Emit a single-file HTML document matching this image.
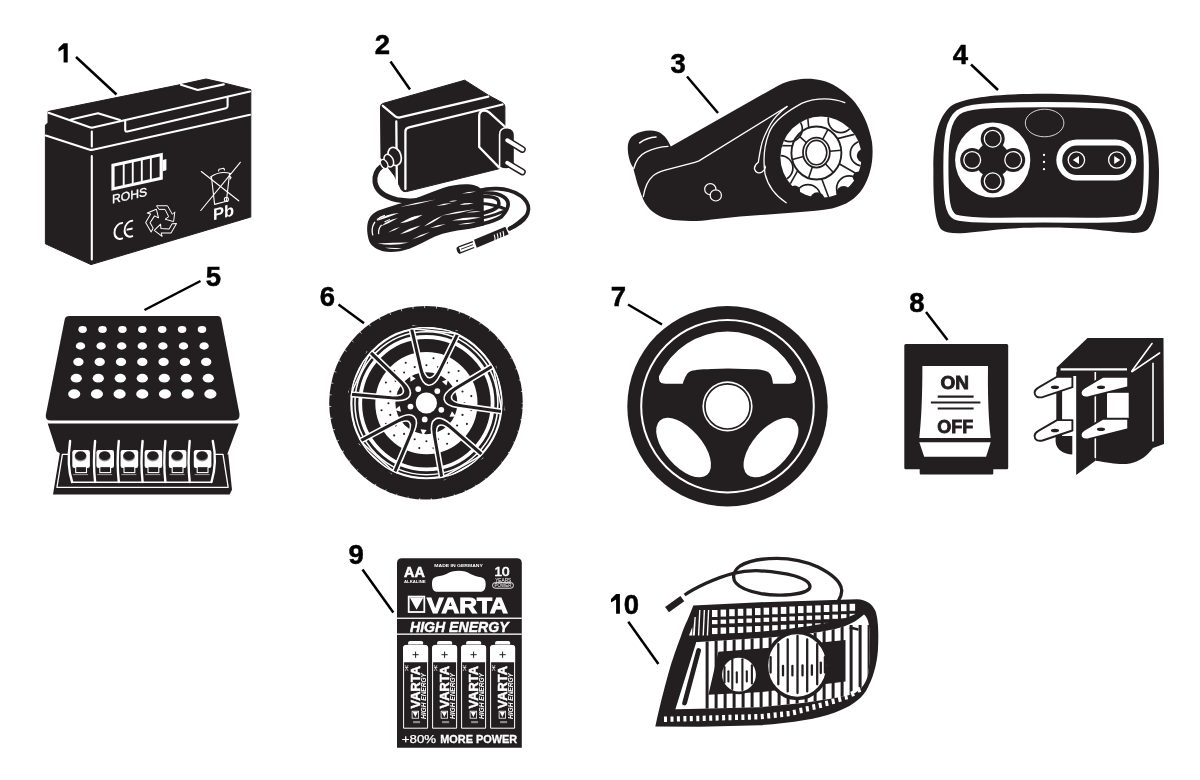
<!DOCTYPE html>
<html><head><meta charset="utf-8"><title>Parts</title>
<style>html,body{margin:0;padding:0;background:#fff;}svg{display:block;will-change:transform}</style></head>
<body><svg width="1200" height="780" viewBox="0 0 1200 780" font-family="'Liberation Sans', sans-serif">
<rect width="1200" height="780" fill="#fff"/>
<text x="382.5" y="53.6" text-anchor="middle" font-weight="bold" font-size="27.5" fill="#000" stroke="#000" stroke-width="0.5">2</text>
<text x="678.1" y="72.5" text-anchor="middle" font-weight="bold" font-size="27.5" fill="#000" stroke="#000" stroke-width="0.5">3</text>
<text x="960.5" y="63.5" text-anchor="middle" font-weight="bold" font-size="27.5" fill="#000" stroke="#000" stroke-width="0.5">4</text>
<text x="213.5" y="286" text-anchor="middle" font-weight="bold" font-size="27.5" fill="#000" stroke="#000" stroke-width="0.5">5</text>
<text x="327.3" y="305.5" text-anchor="middle" font-weight="bold" font-size="27.5" fill="#000" stroke="#000" stroke-width="0.5">6</text>
<text x="618.4" y="305.6" text-anchor="middle" font-weight="bold" font-size="27.5" fill="#000" stroke="#000" stroke-width="0.5">7</text>
<text x="917" y="312.2" text-anchor="middle" font-weight="bold" font-size="27.5" fill="#000" stroke="#000" stroke-width="0.5">8</text>
<text x="356.1" y="563.8" text-anchor="middle" font-weight="bold" font-size="27.5" fill="#000" stroke="#000" stroke-width="0.5">9</text>
<text x="631.4" y="613.7" text-anchor="middle" font-weight="bold" font-size="27.5" fill="#000" stroke="#000" stroke-width="0.5">0</text>
<path d="M63.6,43.3 L67.7,43.3 L67.7,62.6 L63.6,62.6 L63.6,48.7 L58.5,51.7 L58.5,48.3 Z" fill="#000"/>
<path d="M616.1,594.1 L619.9,594.1 L619.9,613.7 L616.1,613.7 L616.1,599.5 L611,602.4 L611,599 Z" fill="#000"/>
<line x1="76" y1="57" x2="116.5" y2="94.5" stroke="#000" stroke-width="2.5"/>
<line x1="390.5" y1="61.5" x2="410" y2="89.5" stroke="#000" stroke-width="2.5"/>
<line x1="687" y1="76.5" x2="718" y2="113" stroke="#000" stroke-width="2.5"/>
<line x1="971" y1="64.5" x2="998" y2="90" stroke="#000" stroke-width="2.5"/>
<line x1="200.5" y1="281" x2="144.5" y2="310" stroke="#000" stroke-width="2.5"/>
<line x1="338.5" y1="304.5" x2="364" y2="323.3" stroke="#000" stroke-width="2.5"/>
<line x1="628" y1="304.5" x2="662" y2="324.5" stroke="#000" stroke-width="2.5"/>
<line x1="926" y1="312" x2="947.5" y2="340" stroke="#000" stroke-width="2.5"/>
<line x1="362.5" y1="569.5" x2="393.3" y2="612.6" stroke="#000" stroke-width="2.5"/>
<line x1="628.3" y1="621.8" x2="658.4" y2="664" stroke="#000" stroke-width="2.5"/>
<path d="M48,111.5 L180.5,84.6 L206,79 L224,83 L250.8,89.7 L250.8,217 L91,264.6 L45.4,243.8 L45.4,125 L48,123 Z" fill="#231f20" stroke="#231f20" stroke-width="1" stroke-linejoin="round"/>
<path d="M48.5,112.8 L89,127 Q91.5,128 94,127.3 L250,91.6" fill="none" stroke="#fff" stroke-width="2.1" stroke-linejoin="round" stroke-linecap="round"/>
<path d="M71,119.5 L98,113.2 L120,120" fill="none" stroke="#fff" stroke-width="2.1" stroke-linejoin="round" stroke-linecap="round"/>
<path d="M125.2,120.8 L125.2,130 Q125.2,132 127.5,131.4 L226,108.2 Q227.6,107.8 227.6,106 L227.6,96.8" fill="none" stroke="#fff" stroke-width="2.1" stroke-linejoin="round" stroke-linecap="round"/>
<path d="M45.8,135.6 L89,149.4 Q91.5,150.3 94,149.6 L250,114.8" fill="none" stroke="#fff" stroke-width="2.1" stroke-linejoin="round" stroke-linecap="round"/>
<path d="M91.8,131.5 L91.8,146.5 M91.8,156 L91.8,259.5" fill="none" stroke="#fff" stroke-width="2.1" stroke-linejoin="round" stroke-linecap="round"/>
<path d="M181,84.8 L197.7,90 L223.8,84.4" fill="none" stroke="#fff" stroke-width="2.1" stroke-linejoin="round" stroke-linecap="round"/>
<g transform="translate(111.4,164) skewY(-12.4)">
<rect x="1.6" y="1.6" width="48.2" height="23.6" fill="none" stroke="#fff" stroke-width="3.2"/>
<rect x="51.2" y="7.2" width="3.8" height="11.2" fill="#fff"/>
<rect x="11.35" y="2" width="1.9" height="23" fill="#fff"/>
<rect x="20.40" y="2" width="1.9" height="23" fill="#fff"/>
<rect x="29.45" y="2" width="1.9" height="23" fill="#fff"/>
<rect x="38.50" y="2" width="1.9" height="23" fill="#fff"/>
<text x="0.6" y="39.6" font-size="12.2" fill="#fff" stroke="#fff" stroke-width="0.35">ROHS</text>
<path d="M11.5,61.6 A6.6,7.8 0 1 0 11.5,76.6 M21.6,61.6 A6.6,7.8 0 1 0 21.6,76.6 M15.2,69.1 L21.2,69.1" fill="none" stroke="#fff" stroke-width="1.9"/>
<text x="101.5" y="78.6" font-size="16.5" fill="#fff" font-weight="bold">Pb</text>
</g>
<g transform="translate(161.4,220.4) scale(1.22) rotate(0)"><path d="M-4,-12 L5,-12 L9,-5 L11,-7 L10,1 L3,-1 L6,-3 L3,-9 L-2,-9 Z" fill="none" stroke="#fff" stroke-width="0.8" stroke-linejoin="round"/></g><g transform="translate(161.4,220.4) scale(1.22) rotate(120)"><path d="M-4,-12 L5,-12 L9,-5 L11,-7 L10,1 L3,-1 L6,-3 L3,-9 L-2,-9 Z" fill="none" stroke="#fff" stroke-width="0.8" stroke-linejoin="round"/></g><g transform="translate(161.4,220.4) scale(1.22) rotate(240)"><path d="M-4,-12 L5,-12 L9,-5 L11,-7 L10,1 L3,-1 L6,-3 L3,-9 L-2,-9 Z" fill="none" stroke="#fff" stroke-width="0.8" stroke-linejoin="round"/></g>
<path d="M211.5,177.2 L214.6,204.4 L226.4,201.3 L229.5,174.1 M210.5,177 Q220,170.5 230.5,173.5 M218.5,171 L219,169.3 L223.8,168.3 L224.5,170" fill="none" stroke="#fff" stroke-width="1.1" stroke-linecap="round" stroke-linejoin="round"/>
<circle cx="226.4" cy="199.4" r="2" fill="none" stroke="#fff" stroke-width="1.1" stroke-linecap="round" stroke-linejoin="round"/>
<path d="M229.5,176 L231,177.5 L230.2,179" fill="none" stroke="#fff" stroke-width="1.1" stroke-linecap="round" stroke-linejoin="round"/>
<path d="M201.3,171.5 L238.7,200.8 M240.3,162.3 L200.8,210.5" fill="none" stroke="#fff" stroke-width="1.1" stroke-linecap="round" stroke-linejoin="round"/>
<path d="M380.5,107 Q380.5,104 383.5,103.3 L464.7,80.2 L488.7,95.4 L499.2,101 Q504.9,103 504.9,106.5 L504.9,127.8 L506.3,128 L499.2,168.7 L406.6,191.6 Q403.5,192.2 401.5,190 L394.6,176 L381,158 Z" fill="#231f20" stroke="#231f20" stroke-width="1" stroke-linejoin="round"/>
<path d="M382.8,105.8 L395.3,116.3 Q397.4,118 400,117.3 L488.3,96.6" fill="none" stroke="#fff" stroke-width="2.3" stroke-linejoin="round" stroke-linecap="round"/>
<path d="M396.3,121.5 L396.9,188" fill="none" stroke="#fff" stroke-width="2.3" stroke-linejoin="round" stroke-linecap="round"/>
<path d="M405.4,189 L405.4,131.5 Q405.4,128.2 409,127.4 L502.5,104.5" fill="none" stroke="#fff" stroke-width="2.3" stroke-linejoin="round" stroke-linecap="round"/>
<path d="M499,167.4 L479.2,147 L479.2,116 Q479.2,111 484.2,110.7 Q487.2,110.6 489.5,112.6 L506.3,128" fill="none" stroke="#fff" stroke-width="2.3" stroke-linejoin="round" stroke-linecap="round"/>
<path d="M499.6,167.5 L499.6,134.5 Q499.6,127.8 507.1,127.8 Q514.6,127.8 514.6,135.5 L514.6,166.8 Q507,171 499.6,167.5 Z" fill="#231f20" stroke="#fff" stroke-width="1.6"/>
<line x1="507.3" y1="140.3" x2="522.3" y2="149.4" stroke="#231f20" stroke-width="7" stroke-linecap="round"/>
<line x1="507.3" y1="140.3" x2="522.3" y2="149.4" stroke="#fff" stroke-width="4" stroke-linecap="round"/>
<line x1="507.3" y1="162.9" x2="522.3" y2="171.9" stroke="#231f20" stroke-width="7" stroke-linecap="round"/>
<line x1="507.3" y1="162.9" x2="522.3" y2="171.9" stroke="#fff" stroke-width="4" stroke-linecap="round"/>
<path d="M382,166 Q374,172 375,182 Q377,195 397,199.8 Q410,202 420,200" fill="none" stroke="#231f20" stroke-width="5" stroke-linecap="round"/>
<path d="M367.5,224 C369,216 374,212 380,210 C388,207 395,205 402,203 C415,199 428,193 443,188 C452,185 460,184 468,184.3 C476,184.8 481,187.5 483.5,192 L484,225.5 C478,227 472,228.5 465,229.6 C455,231 445,232.6 435,236.5 C427,240.5 418,245 410,248.5 C400,252 390,252.8 383,251.2 C375,249.2 370,245 368.5,239 C367,233 366.8,228 367.5,224 Z" fill="#231f20"/>
<path d="M478,190.8 C485,189 492,188.4 497,188.6 C505,188.9 515,191.5 521.4,196.2 C526,200 528.8,205 528.4,209.5 C528,215 525,219 520.5,222.5 C516.5,225.5 512.5,227.5 509.5,228.8" fill="none" stroke="#231f20" stroke-width="3.7" stroke-linecap="round"/>
<path d="M476,193 C485,192.5 495,193 500,195 C505,197 508.2,200 508.2,204 C508.2,209 505,213 501.6,216.6 C497,219.5 490,222 482.6,223.8 C478,224.6 472,225.6 468,226.6" fill="none" stroke="#231f20" stroke-width="3.7" stroke-linecap="round"/>
<path d="M478,196.8 C485,196.2 493,196 497,199 C499.6,201.5 499.2,205 497.4,207 C494.5,209.6 489,211.5 482.6,213.2 L476,214.2" fill="none" stroke="#231f20" stroke-width="3.7" stroke-linecap="round"/>
<path d="M481,203.6 C490,204 498,206 506.5,209.5" fill="none" stroke="#231f20" stroke-width="3" stroke-linecap="round"/>
<path d="M472,219.5 C482,218.5 493,216 503,211.5" fill="none" stroke="#231f20" stroke-width="3" stroke-linecap="round"/>
<path d="M400.0,223.3 Q412.4,221.7 422.8,214.7 Q410.4,216.3 400.0,223.3 Z" fill="#fff"/>
<path d="M400.0,234.2 Q411.1,231.9 420.6,225.5 Q409.5,227.8 400.0,234.2 Z" fill="#fff"/>
<path d="M423.8,226.6 Q433.9,222.7 442.3,215.8 Q432.2,219.7 423.8,226.6 Z" fill="#fff"/>
<path d="M452.0,220.5 Q466.7,220.8 481.0,217.5 Q466.2,216.2 452.0,220.5 Z" fill="#fff"/>
<path d="M441.0,215.8 Q458.2,214.1 474.8,209.3 Q457.6,211.0 441.0,215.8 Z" fill="#fff"/>
<path d="M448.8,201.7 Q453.2,202.3 457.4,200.6 Q453.0,200.0 448.8,201.7 Z" fill="#fff"/>
<path d="M459.6,204.4 Q466.8,205.2 473.7,203.3 Q466.5,202.5 459.6,204.4 Z" fill="#fff"/>
<path d="M400.0,207.0 Q418.2,204.5 435.8,199.5 Q417.6,202.0 400.0,207.0 Z" fill="#fff"/>
<path d="M376.6,221.0 Q388.0,217.7 399.0,213.1 Q386.6,213.6 376.6,221.0 Z" fill="#fff"/>
<path d="M380.5,226.5 Q389.6,223.0 398.0,218.0 Q388.0,219.7 380.5,226.5 Z" fill="#fff"/>
<path d="M388.0,232.5 Q394.6,231.1 400.0,227.0 Q393.4,228.4 388.0,232.5 Z" fill="#fff"/>
<path d="M377.6,243.4 Q393.3,246.3 408.8,242.4 Q393.2,242.5 377.6,243.4 Z" fill="#fff"/>
<path d="M412.0,239.5 Q421.6,237.2 430.0,232.0 Q420.4,234.3 412.0,239.5 Z" fill="#fff"/>
<path d="M385.0,247.8 Q393.4,249.8 402.0,248.5 Q393.5,247.5 385.0,247.8 Z" fill="#fff"/>
<path d="M458.0,224.5 Q467.1,224.8 476.0,222.5 Q466.9,222.2 458.0,224.5 Z" fill="#fff"/>
<path d="M462.0,193.5 Q469.2,193.6 476.0,191.5 Q468.8,191.4 462.0,193.5 Z" fill="#fff"/>
<path d="M436.0,206.0 Q444.2,205.8 452.0,203.0 Q443.8,203.2 436.0,206.0 Z" fill="#fff"/>
<path d="M466.0,212.5 Q473.6,212.9 481.0,211.0 Q473.4,210.6 466.0,212.5 Z" fill="#fff"/>
<path d="M430.0,228.0 Q438.3,227.3 446.0,224.0 Q437.7,224.7 430.0,228.0 Z" fill="#fff"/>
<path d="M407.0,219.5 Q412.9,218.7 418.0,215.5 Q412.1,216.3 407.0,219.5 Z" fill="#fff"/>
<path d="M385,215.5 C376,218 371.5,225 372.2,232 C372.8,238 376,241.5 381,242.8" fill="none" stroke="#fff" stroke-width="1.3" stroke-dasharray="9 3 14 20"/>
<path d="M390,219.5 C382,222 378,228 378.6,233.5 C379.3,238 383,240 388,240.2" fill="none" stroke="#fff" stroke-width="1.2" stroke-dasharray="6 4 10 20"/>
<ellipse cx="394.6" cy="156.4" rx="6.4" ry="9.3" transform="rotate(-18 394.6 156.4)" fill="#231f20" stroke="#fff" stroke-width="1.7"/>
<ellipse cx="388.8" cy="160.6" rx="4.4" ry="6.6" transform="rotate(-25 388.8 160.6)" fill="#231f20" stroke="#fff" stroke-width="1.5"/>
<ellipse cx="384.2" cy="164" rx="3.2" ry="4.9" transform="rotate(-30 384.2 164)" fill="#231f20" stroke="#fff" stroke-width="1.3"/>
<path d="M509,229 Q518,224 527,215" fill="none" stroke="#231f20" stroke-width="3.8"/>
<path d="M474,239.7 L505.3,226.7 L508.7,234.3 L476.7,247.7 Z" fill="#231f20"/>
<path d="M494.2,234.6 q1.2,3 0.8,7.3" fill="none" stroke="#fff" stroke-width="1.1"/>
<path d="M497.1,233.4 q1.2,3 0.8,7.3" fill="none" stroke="#fff" stroke-width="1.1"/>
<path d="M500.0,232.2 q1.2,3 0.8,7.3" fill="none" stroke="#fff" stroke-width="1.1"/>
<path d="M502.9,231.0 q1.2,3 0.8,7.3" fill="none" stroke="#fff" stroke-width="1.1"/>
<path d="M472.9,241.6 L458.6,246.9 Q456.5,249.8 459.8,253.2 L474.2,247.5" fill="#fff" stroke="#231f20" stroke-width="1.3" stroke-linejoin="round"/>
<ellipse cx="458.5" cy="250.2" rx="1.6" ry="3.4" transform="rotate(-20 458.5 250.2)" fill="#231f20"/>
<line x1="461" y1="249.2" x2="473" y2="244.7" stroke="#231f20" stroke-width="0.9"/>
<path d="M627.8,149.6 C627.5,142 630,137.5 634,135 C640,131 650,129.5 657,131.5 C663,133.5 667,138 670.8,146.4 L778.5,85.4 C784,82.5 789,81 795,80 C803,78.5 812,78 822,80.5 C832,83 842,89 852,99 C862,110 869,125 872,142 C874,158 871,175 863,188 C856,199 846,205 832,208.5 C822,210.5 810,211 797.7,212.3 L740,216.5 L711.7,219.4 C704,220.5 697,221 690.5,220.9 C683,220.8 677,220.6 673.6,220.1 C667,219 663,217.5 659.5,215.9 C655,213.5 652,211.5 649.6,208.9 C646,205 644,201.5 641.9,196.2 C640,191 639,188 638.3,186.3 C637,182 636,179 635.5,176.4 C634,171 633.5,169 633.4,168 C631.5,165 630.5,163 629.9,160.9 C628.5,157 628,153 627.8,149.6 Z" fill="#231f20"/>
<path d="M639.7,142.8 Q647,137.5 656,137" fill="none" stroke="#fff" stroke-width="1.6" stroke-linecap="round" stroke-linejoin="round"/>
<path d="M633.8,168.5 C636,160 640,155 645.4,152.4 C652,149 660,146.5 668,146.3" fill="none" stroke="#fff" stroke-width="1.3" stroke-linecap="round" stroke-linejoin="round"/>
<path d="M643.3,196.5 C645,187 648,180 652.4,176.4 C656,173 660,171.5 665.1,170.1 L694.8,162.3 Q697,161.7 699,160.9 L787,106.5" fill="none" stroke="#fff" stroke-width="1.3" stroke-linecap="round" stroke-linejoin="round"/>
<path d="M787,106.5 C780,112 774,118 770.8,123.8 C765,134 762,141 761,147 C759.5,154 759,158 758.3,162.3 C756,164 754,166 754.5,169 C755.5,172.5 759,174 762,172 C765,170 766,168 765,166" fill="none" stroke="#fff" stroke-width="1.3" stroke-linecap="round" stroke-linejoin="round"/>
<circle cx="710.3" cy="189.2" r="5.6" fill="#231f20" stroke="#fff" stroke-width="1.2"/>
<circle cx="715.8" cy="195.4" r="5.6" fill="#231f20" stroke="#fff" stroke-width="1.2"/>
<path d="M844.8,102.7 C828,96 808,99 797.7,105.6 C783,114 772,124 768.8,133.5 C764,146 763,160 765,173.8 C768,186 776,196 786.2,202.7" fill="none" stroke="#fff" stroke-width="1.3" stroke-linecap="round" stroke-linejoin="round"/>
<defs><clipPath id="gearc"><circle cx="821" cy="157.2" r="40.6"/></clipPath></defs>
<circle cx="821" cy="157.2" r="40.6" fill="#fff"/>
<g clip-path="url(#gearc)">
<line x1="822.7" y1="139.4" x2="828.1" y2="129.2" stroke="#231f20" stroke-width="1.6"/>
<line x1="837.6" y1="138.6" x2="858.3" y2="133.4" stroke="#231f20" stroke-width="1.6"/>
<circle cx="840.7" cy="120.1" r="12.5" fill="none" stroke="#231f20" stroke-width="1.7"/>
<line x1="829.7" y1="151.3" x2="841.3" y2="150.3" stroke="#231f20" stroke-width="1.6"/>
<line x1="839.1" y1="163.8" x2="860.9" y2="176.2" stroke="#231f20" stroke-width="1.6"/>
<circle cx="862.8" cy="153.5" r="12.5" fill="none" stroke="#231f20" stroke-width="1.7"/>
<line x1="825.4" y1="163.7" x2="833.1" y2="172.3" stroke="#231f20" stroke-width="1.6"/>
<line x1="821.6" y1="178.5" x2="830.1" y2="201.2" stroke="#231f20" stroke-width="1.6"/>
<circle cx="849.1" cy="188.4" r="12.5" fill="none" stroke="#231f20" stroke-width="1.7"/>
<line x1="812.3" y1="166.9" x2="808.7" y2="177.8" stroke="#231f20" stroke-width="1.6"/>
<line x1="797.8" y1="170.3" x2="788.3" y2="187.3" stroke="#231f20" stroke-width="1.6"/>
<circle cx="808.0" cy="197.1" r="12.5" fill="none" stroke="#231f20" stroke-width="1.7"/>
<line x1="803.5" y1="156.5" x2="792.3" y2="159.5" stroke="#231f20" stroke-width="1.6"/>
<line x1="792.3" y1="145.7" x2="778.5" y2="145.6" stroke="#231f20" stroke-width="1.6"/>
<circle cx="780.4" cy="168.1" r="12.5" fill="none" stroke="#231f20" stroke-width="1.7"/>
<line x1="806.4" y1="142.6" x2="797.8" y2="134.9" stroke="#231f20" stroke-width="1.6"/>
<line x1="808.7" y1="127.4" x2="807.4" y2="114.4" stroke="#231f20" stroke-width="1.6"/>
<circle cx="789.8" cy="129.1" r="12.5" fill="none" stroke="#231f20" stroke-width="1.7"/>
<ellipse cx="816.4" cy="153.0" rx="25" ry="26.5" fill="none" stroke="#231f20" stroke-width="1.9"/>
<ellipse cx="816.4" cy="152.6" rx="13.4" ry="15" fill="#fff" stroke="#231f20" stroke-width="1.8"/>
<ellipse cx="816.4" cy="152.6" rx="10.4" ry="12.2" fill="none" stroke="#231f20" stroke-width="1.6"/>
</g>
<circle cx="863.6" cy="155.7" r="6.8" fill="#231f20"/>
<circle cx="858.6" cy="177.2" r="5.8" fill="#231f20"/>
<circle cx="843.6" cy="193.3" r="7.3" fill="#231f20"/>
<circle cx="817.3" cy="199.6" r="7.3" fill="#231f20"/>
<circle cx="794.8" cy="190.8" r="5.3" fill="#231f20"/>
<path d="M933.4,172 C933,140 937,118 951,106 C964,97 1000,93.8 1044,93.7 C1088,93.8 1124,97 1137,106 C1151,118 1159.2,140 1159,172 C1159,205 1155,222 1147,230 C1140,235.5 1120,232 1090,229 C1070,227.8 1058,227.6 1044,227.6 C1030,227.6 1015,228 998,229.5 C968,233 950,235.5 942,230 C936,225 933,205 933.4,172 Z" fill="#231f20"/>
<path d="M945.9,165 C945.9,135 948.5,120 958,112.5 C966,106.5 985,104.65 1044,104.65 C1103,104.65 1122,106.5 1130,112.5 C1139.5,120 1146.3,135 1146.3,165 C1146.3,201 1143.5,213 1135.5,217 C1120,221.5 1080,220 1044,220 C1008,220 968,221.5 955,217 C947.5,213 945.9,201 945.9,165 Z" fill="#231f20" stroke="#fff" stroke-width="5.1"/>
<circle cx="992.7" cy="160" r="37.6" fill="#fff"/>
<circle cx="992.7" cy="160" r="17.5" fill="#231f20"/>
<circle cx="992.7" cy="138.7" r="12" fill="#231f20"/>
<circle cx="992.7" cy="181.3" r="12" fill="#231f20"/>
<circle cx="972.2" cy="160" r="12" fill="#231f20"/>
<circle cx="1013.2" cy="160" r="12" fill="#231f20"/>
<circle cx="992.7" cy="138.7" r="8.4" fill="none" stroke="#fff" stroke-width="1.3"/>
<circle cx="992.7" cy="181.3" r="8.4" fill="none" stroke="#fff" stroke-width="1.3"/>
<circle cx="972.2" cy="160" r="8.4" fill="none" stroke="#fff" stroke-width="1.3"/>
<circle cx="1013.2" cy="160" r="8.4" fill="none" stroke="#fff" stroke-width="1.3"/>
<ellipse cx="1044.6" cy="123" rx="19.3" ry="13.8" fill="none" stroke="#fff" stroke-width="0.8"/>
<circle cx="1044" cy="154.9" r="1.15" fill="#fff"/>
<circle cx="1044" cy="162" r="1.15" fill="#fff"/>
<circle cx="1044" cy="169.2" r="1.15" fill="#fff"/>
<rect x="1056.3" y="139.5" width="80" height="41" rx="20.5" fill="#fff"/>
<rect x="1062.2" y="145.6" width="69.2" height="29.4" rx="14.7" fill="#231f20"/>
<circle cx="1076.4" cy="160" r="8.2" fill="none" stroke="#fff" stroke-width="1.3"/>
<path d="M1072.8000000000002,160 L1079.0,156 L1079.0,164 Z" fill="#fff"/>
<circle cx="1116.8" cy="160" r="8.2" fill="none" stroke="#fff" stroke-width="1.3"/>
<path d="M1120.3999999999999,160 L1114.2,156 L1114.2,164 Z" fill="#fff"/>
<path d="M69.5,316.1 L217.6,316.1 Q220.5,316.1 221.2,319 L239.5,414 Q240,420.5 234,420.5 L51,420.5 Q45,420.5 45.8,415 L64.8,319 Q65.5,316.1 69.5,316.1 Z" fill="#231f20"/>
<path d="M47.7,423.5 L238.6,423.5 L227,455 L228.2,453.8 L232,489.7 L229.5,494.5 L53,494.5 L59.8,453.2 L56.7,451.3 Z" fill="#231f20"/>
<ellipse cx="82.6" cy="329.5" rx="4.25" ry="3.40" fill="#fff"/>
<ellipse cx="102.5" cy="329.5" rx="4.25" ry="3.40" fill="#fff"/>
<ellipse cx="122.4" cy="329.5" rx="4.25" ry="3.40" fill="#fff"/>
<ellipse cx="142.3" cy="329.5" rx="4.25" ry="3.40" fill="#fff"/>
<ellipse cx="162.2" cy="329.5" rx="4.25" ry="3.40" fill="#fff"/>
<ellipse cx="182.1" cy="329.5" rx="4.25" ry="3.40" fill="#fff"/>
<ellipse cx="202.0" cy="329.5" rx="4.25" ry="3.40" fill="#fff"/>
<ellipse cx="80.5" cy="346" rx="4.71" ry="3.71" fill="#fff"/>
<ellipse cx="101.1" cy="346" rx="4.71" ry="3.71" fill="#fff"/>
<ellipse cx="121.7" cy="346" rx="4.71" ry="3.71" fill="#fff"/>
<ellipse cx="142.3" cy="346" rx="4.71" ry="3.71" fill="#fff"/>
<ellipse cx="162.9" cy="346" rx="4.71" ry="3.71" fill="#fff"/>
<ellipse cx="183.5" cy="346" rx="4.71" ry="3.71" fill="#fff"/>
<ellipse cx="204.1" cy="346" rx="4.71" ry="3.71" fill="#fff"/>
<ellipse cx="78.4" cy="361.9" rx="5.17" ry="4.03" fill="#fff"/>
<ellipse cx="99.7" cy="361.9" rx="5.17" ry="4.03" fill="#fff"/>
<ellipse cx="121.0" cy="361.9" rx="5.17" ry="4.03" fill="#fff"/>
<ellipse cx="142.3" cy="361.9" rx="5.17" ry="4.03" fill="#fff"/>
<ellipse cx="163.6" cy="361.9" rx="5.17" ry="4.03" fill="#fff"/>
<ellipse cx="184.9" cy="361.9" rx="5.17" ry="4.03" fill="#fff"/>
<ellipse cx="206.2" cy="361.9" rx="5.17" ry="4.03" fill="#fff"/>
<ellipse cx="76.3" cy="378.2" rx="5.64" ry="4.34" fill="#fff"/>
<ellipse cx="98.3" cy="378.2" rx="5.64" ry="4.34" fill="#fff"/>
<ellipse cx="120.3" cy="378.2" rx="5.64" ry="4.34" fill="#fff"/>
<ellipse cx="142.3" cy="378.2" rx="5.64" ry="4.34" fill="#fff"/>
<ellipse cx="164.3" cy="378.2" rx="5.64" ry="4.34" fill="#fff"/>
<ellipse cx="186.3" cy="378.2" rx="5.64" ry="4.34" fill="#fff"/>
<ellipse cx="208.3" cy="378.2" rx="5.64" ry="4.34" fill="#fff"/>
<ellipse cx="74.2" cy="394" rx="6.10" ry="4.65" fill="#fff"/>
<ellipse cx="96.9" cy="394" rx="6.10" ry="4.65" fill="#fff"/>
<ellipse cx="119.6" cy="394" rx="6.10" ry="4.65" fill="#fff"/>
<ellipse cx="142.3" cy="394" rx="6.10" ry="4.65" fill="#fff"/>
<ellipse cx="165.0" cy="394" rx="6.10" ry="4.65" fill="#fff"/>
<ellipse cx="187.7" cy="394" rx="6.10" ry="4.65" fill="#fff"/>
<ellipse cx="210.4" cy="394" rx="6.10" ry="4.65" fill="#fff"/>
<path d="M69,454.4 L62.4,454.4 L56.9,487.3 L228.2,487.3 L223,454.4 L214.5,454.4" fill="none" stroke="#fff" stroke-width="1.3" stroke-linejoin="round"/>
<line x1="71" y1="482.2" x2="212" y2="482.2" stroke="#fff" stroke-width="1.4"/>
<rect x="72.3" y="450" width="17.6" height="18" rx="2.2" fill="#fff"/>
<rect x="75.7" y="466.6" width="10.8" height="6" fill="#231f20" stroke="#fff" stroke-width="1.1"/>
<ellipse cx="80.6" cy="456.8" rx="6" ry="4.6" fill="#888"/>
<ellipse cx="80.6" cy="455.6" rx="5.6" ry="4.4" fill="#231f20"/>
<line x1="73.1" y1="474.6" x2="88.1" y2="474.6" stroke="#999" stroke-width="1"/>
<rect x="96.4" y="450" width="17.6" height="18" rx="2.2" fill="#fff"/>
<rect x="99.8" y="466.6" width="10.8" height="6" fill="#231f20" stroke="#fff" stroke-width="1.1"/>
<ellipse cx="104.7" cy="456.8" rx="6" ry="4.6" fill="#888"/>
<ellipse cx="104.7" cy="455.6" rx="5.6" ry="4.4" fill="#231f20"/>
<line x1="97.2" y1="474.6" x2="112.2" y2="474.6" stroke="#999" stroke-width="1"/>
<rect x="120.6" y="450" width="17.6" height="18" rx="2.2" fill="#fff"/>
<rect x="124.0" y="466.6" width="10.8" height="6" fill="#231f20" stroke="#fff" stroke-width="1.1"/>
<ellipse cx="128.9" cy="456.8" rx="6" ry="4.6" fill="#888"/>
<ellipse cx="128.9" cy="455.6" rx="5.6" ry="4.4" fill="#231f20"/>
<line x1="121.4" y1="474.6" x2="136.4" y2="474.6" stroke="#999" stroke-width="1"/>
<rect x="144.6" y="450" width="17.6" height="18" rx="2.2" fill="#fff"/>
<rect x="148.0" y="466.6" width="10.8" height="6" fill="#231f20" stroke="#fff" stroke-width="1.1"/>
<ellipse cx="152.9" cy="456.8" rx="6" ry="4.6" fill="#888"/>
<ellipse cx="152.9" cy="455.6" rx="5.6" ry="4.4" fill="#231f20"/>
<line x1="145.4" y1="474.6" x2="160.4" y2="474.6" stroke="#999" stroke-width="1"/>
<rect x="168.8" y="450" width="17.6" height="18" rx="2.2" fill="#fff"/>
<rect x="172.2" y="466.6" width="10.8" height="6" fill="#231f20" stroke="#fff" stroke-width="1.1"/>
<ellipse cx="177.1" cy="456.8" rx="6" ry="4.6" fill="#888"/>
<ellipse cx="177.1" cy="455.6" rx="5.6" ry="4.4" fill="#231f20"/>
<line x1="169.6" y1="474.6" x2="184.6" y2="474.6" stroke="#999" stroke-width="1"/>
<rect x="193.8" y="450" width="17.6" height="18" rx="2.2" fill="#fff"/>
<rect x="197.2" y="466.6" width="10.8" height="6" fill="#231f20" stroke="#fff" stroke-width="1.1"/>
<ellipse cx="202.1" cy="456.8" rx="6" ry="4.6" fill="#888"/>
<ellipse cx="202.1" cy="455.6" rx="5.6" ry="4.4" fill="#231f20"/>
<line x1="194.6" y1="474.6" x2="209.6" y2="474.6" stroke="#999" stroke-width="1"/>
<path d="M70.1,441 Q66.6,466 72.1,482" fill="none" stroke="#fff" stroke-width="2.4" stroke-linecap="round"/>
<path d="M95.1,441 Q92.89999999999999,462 95.1,482" fill="none" stroke="#fff" stroke-width="2.4" stroke-linecap="round"/>
<path d="M118.8,441 Q116.6,462 118.8,482" fill="none" stroke="#fff" stroke-width="2.4" stroke-linecap="round"/>
<path d="M142.6,441 Q140.4,462 142.6,482" fill="none" stroke="#fff" stroke-width="2.4" stroke-linecap="round"/>
<path d="M165.4,441 Q163.20000000000002,462 165.4,482" fill="none" stroke="#fff" stroke-width="2.4" stroke-linecap="round"/>
<path d="M189.7,441 Q187.5,462 189.7,482" fill="none" stroke="#fff" stroke-width="2.4" stroke-linecap="round"/>
<path d="M212.8,441 Q217.5,462 211.5,482" fill="none" stroke="#fff" stroke-width="2.4" stroke-linecap="round"/>
<circle cx="426.0" cy="402.8" r="96.8" fill="#231f20"/>
<line x1="523.9" y1="408.3" x2="521.5" y2="408.2" stroke="#fff" stroke-width="0.7"/>
<line x1="522.5" y1="420.1" x2="520.2" y2="419.7" stroke="#fff" stroke-width="0.7"/>
<line x1="519.7" y1="431.7" x2="517.4" y2="431.0" stroke="#fff" stroke-width="0.7"/>
<line x1="515.6" y1="442.9" x2="513.4" y2="441.9" stroke="#fff" stroke-width="0.7"/>
<line x1="510.1" y1="453.5" x2="508.0" y2="452.2" stroke="#fff" stroke-width="0.7"/>
<line x1="503.3" y1="463.3" x2="501.4" y2="461.8" stroke="#fff" stroke-width="0.7"/>
<line x1="495.4" y1="472.2" x2="493.7" y2="470.5" stroke="#fff" stroke-width="0.7"/>
<line x1="486.5" y1="480.1" x2="485.0" y2="478.2" stroke="#fff" stroke-width="0.7"/>
<line x1="476.7" y1="486.9" x2="475.4" y2="484.8" stroke="#fff" stroke-width="0.7"/>
<line x1="466.1" y1="492.4" x2="465.1" y2="490.2" stroke="#fff" stroke-width="0.7"/>
<line x1="454.9" y1="496.5" x2="454.2" y2="494.2" stroke="#fff" stroke-width="0.7"/>
<line x1="443.3" y1="499.3" x2="442.9" y2="497.0" stroke="#fff" stroke-width="0.7"/>
<line x1="431.5" y1="500.7" x2="431.4" y2="498.3" stroke="#fff" stroke-width="0.7"/>
<line x1="419.6" y1="500.6" x2="419.8" y2="498.2" stroke="#fff" stroke-width="0.7"/>
<line x1="407.8" y1="499.0" x2="408.2" y2="496.7" stroke="#fff" stroke-width="0.7"/>
<line x1="396.2" y1="496.0" x2="397.0" y2="493.7" stroke="#fff" stroke-width="0.7"/>
<line x1="385.2" y1="491.7" x2="386.2" y2="489.5" stroke="#fff" stroke-width="0.7"/>
<line x1="374.7" y1="486.0" x2="376.0" y2="483.9" stroke="#fff" stroke-width="0.7"/>
<line x1="365.0" y1="479.0" x2="366.5" y2="477.2" stroke="#fff" stroke-width="0.7"/>
<line x1="356.2" y1="471.0" x2="357.9" y2="469.3" stroke="#fff" stroke-width="0.7"/>
<line x1="348.5" y1="461.9" x2="350.4" y2="460.5" stroke="#fff" stroke-width="0.7"/>
<line x1="341.9" y1="452.0" x2="344.0" y2="450.8" stroke="#fff" stroke-width="0.7"/>
<line x1="336.6" y1="441.3" x2="338.8" y2="440.4" stroke="#fff" stroke-width="0.7"/>
<line x1="332.6" y1="430.1" x2="334.9" y2="429.4" stroke="#fff" stroke-width="0.7"/>
<line x1="330.0" y1="418.5" x2="332.4" y2="418.1" stroke="#fff" stroke-width="0.7"/>
<line x1="328.9" y1="406.6" x2="331.3" y2="406.5" stroke="#fff" stroke-width="0.7"/>
<line x1="329.2" y1="394.7" x2="331.6" y2="394.9" stroke="#fff" stroke-width="0.7"/>
<line x1="330.9" y1="382.9" x2="333.3" y2="383.4" stroke="#fff" stroke-width="0.7"/>
<line x1="334.1" y1="371.4" x2="336.4" y2="372.2" stroke="#fff" stroke-width="0.7"/>
<line x1="338.7" y1="360.4" x2="340.8" y2="361.5" stroke="#fff" stroke-width="0.7"/>
<line x1="344.5" y1="350.0" x2="346.6" y2="351.4" stroke="#fff" stroke-width="0.7"/>
<line x1="351.6" y1="340.5" x2="353.5" y2="342.0" stroke="#fff" stroke-width="0.7"/>
<line x1="359.8" y1="331.8" x2="361.5" y2="333.6" stroke="#fff" stroke-width="0.7"/>
<line x1="369.0" y1="324.2" x2="370.4" y2="326.2" stroke="#fff" stroke-width="0.7"/>
<line x1="379.1" y1="317.8" x2="380.2" y2="319.9" stroke="#fff" stroke-width="0.7"/>
<line x1="389.8" y1="312.7" x2="390.7" y2="314.9" stroke="#fff" stroke-width="0.7"/>
<line x1="401.1" y1="308.9" x2="401.8" y2="311.2" stroke="#fff" stroke-width="0.7"/>
<line x1="412.8" y1="306.5" x2="413.2" y2="308.9" stroke="#fff" stroke-width="0.7"/>
<line x1="424.7" y1="305.6" x2="424.7" y2="308.0" stroke="#fff" stroke-width="0.7"/>
<line x1="436.6" y1="306.1" x2="436.4" y2="308.5" stroke="#fff" stroke-width="0.7"/>
<line x1="448.4" y1="308.1" x2="447.8" y2="310.4" stroke="#fff" stroke-width="0.7"/>
<line x1="459.8" y1="311.5" x2="459.0" y2="313.7" stroke="#fff" stroke-width="0.7"/>
<line x1="470.7" y1="316.2" x2="469.6" y2="318.4" stroke="#fff" stroke-width="0.7"/>
<line x1="481.0" y1="322.3" x2="479.6" y2="324.3" stroke="#fff" stroke-width="0.7"/>
<line x1="490.4" y1="329.5" x2="488.9" y2="331.4" stroke="#fff" stroke-width="0.7"/>
<line x1="498.9" y1="337.9" x2="497.1" y2="339.5" stroke="#fff" stroke-width="0.7"/>
<line x1="506.3" y1="347.2" x2="504.4" y2="348.6" stroke="#fff" stroke-width="0.7"/>
<line x1="512.6" y1="357.4" x2="510.5" y2="358.5" stroke="#fff" stroke-width="0.7"/>
<line x1="517.5" y1="368.2" x2="515.3" y2="369.1" stroke="#fff" stroke-width="0.7"/>
<line x1="521.1" y1="379.6" x2="518.8" y2="380.2" stroke="#fff" stroke-width="0.7"/>
<line x1="523.3" y1="391.3" x2="520.9" y2="391.6" stroke="#fff" stroke-width="0.7"/>
<line x1="524.0" y1="403.2" x2="521.6" y2="403.2" stroke="#fff" stroke-width="0.7"/>
<circle cx="426.4" cy="403.2" r="75.8" fill="#fff"/>
<circle cx="426.4" cy="403.2" r="73.1" fill="none" stroke="#231f20" stroke-width="1.7"/>
<circle cx="426.4" cy="403.2" r="69.4" fill="none" stroke="#231f20" stroke-width="2.6"/>
<circle cx="426.4" cy="403.2" r="57.7" fill="none" stroke="#231f20" stroke-width="13.2"/>
<circle cx="464.4" cy="403.2" r="1.05" fill="#231f20"/>
<circle cx="462.5" cy="414.9" r="1.05" fill="#231f20"/>
<circle cx="457.1" cy="425.5" r="1.05" fill="#231f20"/>
<circle cx="448.7" cy="433.9" r="1.05" fill="#231f20"/>
<circle cx="438.1" cy="439.3" r="1.05" fill="#231f20"/>
<circle cx="426.4" cy="441.2" r="1.05" fill="#231f20"/>
<circle cx="414.7" cy="439.3" r="1.05" fill="#231f20"/>
<circle cx="404.1" cy="433.9" r="1.05" fill="#231f20"/>
<circle cx="395.7" cy="425.5" r="1.05" fill="#231f20"/>
<circle cx="390.3" cy="414.9" r="1.05" fill="#231f20"/>
<circle cx="388.4" cy="403.2" r="1.05" fill="#231f20"/>
<circle cx="390.3" cy="391.5" r="1.05" fill="#231f20"/>
<circle cx="395.7" cy="380.9" r="1.05" fill="#231f20"/>
<circle cx="404.1" cy="372.5" r="1.05" fill="#231f20"/>
<circle cx="414.7" cy="367.1" r="1.05" fill="#231f20"/>
<circle cx="426.4" cy="365.2" r="1.05" fill="#231f20"/>
<circle cx="438.1" cy="367.1" r="1.05" fill="#231f20"/>
<circle cx="448.7" cy="372.5" r="1.05" fill="#231f20"/>
<circle cx="457.1" cy="380.9" r="1.05" fill="#231f20"/>
<circle cx="462.5" cy="391.5" r="1.05" fill="#231f20"/>
<circle cx="471.3" cy="410.3" r="1.05" fill="#231f20"/>
<circle cx="466.9" cy="423.9" r="1.05" fill="#231f20"/>
<circle cx="458.6" cy="435.4" r="1.05" fill="#231f20"/>
<circle cx="447.1" cy="443.7" r="1.05" fill="#231f20"/>
<circle cx="433.5" cy="448.1" r="1.05" fill="#231f20"/>
<circle cx="419.3" cy="448.1" r="1.05" fill="#231f20"/>
<circle cx="405.7" cy="443.7" r="1.05" fill="#231f20"/>
<circle cx="394.2" cy="435.4" r="1.05" fill="#231f20"/>
<circle cx="385.9" cy="423.9" r="1.05" fill="#231f20"/>
<circle cx="381.5" cy="410.3" r="1.05" fill="#231f20"/>
<circle cx="381.5" cy="396.1" r="1.05" fill="#231f20"/>
<circle cx="385.9" cy="382.5" r="1.05" fill="#231f20"/>
<circle cx="394.2" cy="371.0" r="1.05" fill="#231f20"/>
<circle cx="405.7" cy="362.7" r="1.05" fill="#231f20"/>
<circle cx="419.3" cy="358.3" r="1.05" fill="#231f20"/>
<circle cx="433.5" cy="358.3" r="1.05" fill="#231f20"/>
<circle cx="447.1" cy="362.7" r="1.05" fill="#231f20"/>
<circle cx="458.6" cy="371.0" r="1.05" fill="#231f20"/>
<circle cx="466.9" cy="382.5" r="1.05" fill="#231f20"/>
<circle cx="471.3" cy="396.1" r="1.05" fill="#231f20"/>
<circle cx="426.4" cy="403.2" r="31" fill="#231f20"/>
<path d="M409.08,328.17 L419.20,372.02 C423.03,388.58 432.98,389.72 440.43,374.44 L460.15,333.99 Z M413.34,326.16 L422.78,367.09 C425.93,380.73 431.91,381.41 438.05,368.83 L456.46,331.08 Z" fill="#231f20" fill-rule="evenodd" stroke="#fff" stroke-width="1.6"/>
<path d="M492.40,363.54 L453.83,386.72 C439.26,395.47 441.25,405.29 458.09,407.65 L502.65,413.92 Z M495.63,366.97 L459.63,388.60 C447.63,395.81 448.83,401.71 462.69,403.65 L504.28,409.50 Z" fill="#231f20" fill-rule="evenodd" stroke="#fff" stroke-width="1.6"/>
<path d="M484.51,453.72 L450.55,424.19 C437.72,413.04 429.00,417.97 431.96,434.71 L439.77,479.03 Z M482.25,457.84 L450.55,430.29 C439.99,421.10 434.75,424.07 437.18,437.85 L444.47,479.22 Z" fill="#231f20" fill-rule="evenodd" stroke="#fff" stroke-width="1.6"/>
<path d="M396.31,474.08 L413.90,432.66 C420.54,417.01 413.16,410.24 398.15,418.22 L358.41,439.35 Z M391.69,473.20 L408.10,434.54 C413.57,421.65 409.13,417.59 396.77,424.16 L359.69,443.88 Z" fill="#231f20" fill-rule="evenodd" stroke="#fff" stroke-width="1.6"/>
<path d="M349.69,396.49 L394.52,400.41 C411.46,401.89 415.61,392.78 403.38,380.97 L371.01,349.71 Z M349.10,391.82 L390.94,395.48 C404.88,396.70 407.38,391.23 397.31,381.50 L367.10,352.33 Z" fill="#231f20" fill-rule="evenodd" stroke="#fff" stroke-width="1.6"/>
<circle cx="426.4" cy="403.2" r="77.3" fill="none" stroke="#231f20" stroke-width="2.4"/>
<circle cx="426.4" cy="403.2" r="75.5" fill="none" stroke="#fff" stroke-width="1.2"/>
<circle cx="418.2" cy="389.1" r="2.9" fill="#fff"/>
<path d="M410.15,375.05 L410.46,381.66 L415.71,378.62 Z" fill="#fff"/>
<circle cx="437.3" cy="391.1" r="2.9" fill="#fff"/>
<path d="M448.15,379.05 L441.96,381.38 L446.47,385.44 Z" fill="#fff"/>
<circle cx="441.3" cy="409.8" r="2.9" fill="#fff"/>
<path d="M456.09,416.42 L451.96,411.26 L449.49,416.80 Z" fill="#fff"/>
<circle cx="424.7" cy="419.4" r="2.9" fill="#fff"/>
<path d="M423.00,435.52 L426.63,430.00 L420.60,429.36 Z" fill="#fff"/>
<circle cx="410.5" cy="406.6" r="2.9" fill="#fff"/>
<path d="M394.61,409.96 L400.98,411.70 L399.72,405.77 Z" fill="#fff"/>
<circle cx="426.4" cy="403.0" r="10.6" fill="#fff"/>
<circle cx="727.5" cy="406.2" r="100.2" fill="#231f20"/>
<circle cx="727.5" cy="406.2" r="86.3" fill="none" stroke="#fff" stroke-width="2"/>
<path d="M665.5,383.7 C660.5,383.7 658.6,381.5 659,376.2 A74.9,74.9 0 0 1 796,376.2 C796.4,381.5 794.5,383.7 789.5,383.7 L773,383.7 C772,377 771,374 768,372 C766,370.5 760,369.2 752.6,369.3 L728,368.6 L711.5,369 C700,369.3 693,370 690,371.5 C687,373 685,377 682.8,383.7 Z" fill="#fff"/>
<ellipse cx="683.6" cy="447.6" rx="36" ry="18.5" transform="rotate(49 683.6 447.6)" fill="#fff"/>
<ellipse cx="771" cy="447.6" rx="36" ry="18.5" transform="rotate(-49 771 447.6)" fill="#fff"/>
<circle cx="727.5" cy="406.4" r="25.1" fill="#fff"/>
<circle cx="727.5" cy="406.4" r="22.6" fill="none" stroke="#231f20" stroke-width="1.7"/>
<rect x="904.3" y="344" width="103.9" height="125.3" rx="1.5" fill="#231f20"/>
<rect x="919.7" y="466" width="73.6" height="8.6" rx="1" fill="#231f20"/>
<path d="M922.4,366 L988,366 C987.6,395 988.6,420 990.7,438.1 L919.3,438.1 C921.4,420 922.4,395 922.4,366 Z" fill="#fff"/>
<path d="M919.3,442.2 L990.7,442.2 L986.1,456.7 L924.2,456.7 Z" fill="#fff"/>
<text x="954.8" y="388.5" text-anchor="middle" font-weight="bold" font-size="19" fill="#231f20" stroke="#231f20" stroke-width="0.9">ON</text>
<text x="955.3" y="433.4" text-anchor="middle" font-weight="bold" font-size="19" fill="#231f20" stroke="#231f20" stroke-width="0.9" textLength="36" lengthAdjust="spacingAndGlyphs">OFF</text>
<line x1="937.7" y1="396.6" x2="973.6" y2="396.6" stroke="#231f20" stroke-width="2.1"/>
<line x1="930.9" y1="402.5" x2="980.4" y2="402.5" stroke="#231f20" stroke-width="2.1"/>
<line x1="937.7" y1="408.5" x2="973.6" y2="408.5" stroke="#231f20" stroke-width="2.1"/>
<path d="M1087.5,338 L1163.5,338 L1164,444 L1153,448 C1148,455 1140,461.5 1130,463.5 C1120,465 1110,463 1095.4,460.8 L1095.4,376 L1056.7,376 L1056.7,367.5 Z" fill="#231f20"/>
<path d="M1076.2,376 L1095.4,376 L1095.4,460.8 L1076.2,475 Z" fill="#231f20"/>
<rect x="1056.3" y="372" width="5.8" height="70" fill="#231f20"/>
<path d="M1055.6,436 L1072.3,436 L1072.3,454.6 C1064,454 1056,450 1055.6,441.5 Z" fill="#231f20"/>
<rect x="1107" y="392.8" width="21.7" height="25.7" fill="#fff"/>
<line x1="1060.6" y1="369.4" x2="1127" y2="369.4" stroke="#fff" stroke-width="2.2"/>
<line x1="1095.3" y1="372" x2="1095.3" y2="458" stroke="#fff" stroke-width="1.6"/>
<line x1="1153" y1="362.7" x2="1153" y2="441.5" stroke="#fff" stroke-width="1.6"/>
<path d="M1131.7,371.3 L1152,343.5 M1132.2,371.6 L1159.6,353" stroke="#fff" stroke-width="1.6" stroke-linecap="round"/>
<path d="M1038.4,387.6 L1057.0,376.8 L1072.4,376.8 L1072.4,387.2 L1042.5,397.2 Q1034.6,398.4 1034.6,392.6 Q1034.8,389.5 1038.4,387.6 Z" fill="#fff" stroke="#231f20" stroke-width="1.9" stroke-linejoin="round"/>
<ellipse cx="1055" cy="387.2" rx="4.1" ry="1.8" fill="#231f20"/>
<path d="M1084.4,387.6 L1103.0,376.8 L1128.2,376.8 L1128.2,387.2 L1088.5,397.2 Q1080.6,398.4 1080.6,392.6 Q1080.8,389.5 1084.4,387.6 Z" fill="#fff" stroke="#231f20" stroke-width="1.9" stroke-linejoin="round"/>
<ellipse cx="1101" cy="387.2" rx="4.1" ry="1.8" fill="#231f20"/>
<path d="M1038.4,430.9 L1057.0,420.1 L1072.4,420.1 L1072.4,430.5 L1042.5,440.5 Q1034.6,441.7 1034.6,435.9 Q1034.8,432.8 1038.4,430.9 Z" fill="#fff" stroke="#231f20" stroke-width="1.9" stroke-linejoin="round"/>
<ellipse cx="1055" cy="430.5" rx="4.1" ry="1.8" fill="#231f20"/>
<path d="M1084.4,429.6 L1103.0,418.8 L1128.2,418.8 L1128.2,429.2 L1088.5,439.2 Q1080.6,440.4 1080.6,434.6 Q1080.8,431.5 1084.4,429.6 Z" fill="#fff" stroke="#231f20" stroke-width="1.9" stroke-linejoin="round"/>
<ellipse cx="1101" cy="429.2" rx="4.1" ry="1.8" fill="#231f20"/>
<path d="M402,558.2 L516.8,558.2 Q521.8,558.2 521.8,563.2 L521.8,747.7 L397,747.7 L397,563.2 Q397,558.2 402,558.2 Z" fill="#231f20"/>
<text x="434.3" y="567" font-size="4.3" font-weight="bold" fill="#fff" textLength="48.5" lengthAdjust="spacingAndGlyphs">MADE IN GERMANY</text>
<text x="404" y="577.4" font-size="14" font-weight="bold" fill="#fff" stroke="#fff" stroke-width="0.5" textLength="20.8" lengthAdjust="spacingAndGlyphs">AA</text>
<text x="404" y="582.8" font-size="3.9" font-weight="bold" fill="#fff" textLength="21.6" lengthAdjust="spacingAndGlyphs">ALKALINE</text>
<text x="494.6" y="576.4" font-size="12.6" fill="#fff" textLength="15" lengthAdjust="spacingAndGlyphs" stroke="#fff" stroke-width="0.7">10</text>
<text x="495.2" y="581.5" font-size="4.6" fill="#fff" textLength="16" lengthAdjust="spacingAndGlyphs">YEARS</text>
<rect x="492.6" y="582.6" width="20.8" height="5.6" rx="2.6" fill="none" stroke="#fff" stroke-width="0.9"/>
<text x="494.6" y="587.2" font-size="4.8" fill="#fff" textLength="17" lengthAdjust="spacingAndGlyphs">POWER</text>
<path d="M432,584 C432,579.5 433.5,577.5 437,576.6 C441,575.8 444,575.3 446.5,574 C450,572 454,570.8 458.8,570.8 C463.5,570.8 467,572 470.5,574 C473.5,575.6 477,576.6 481,577.2 C484.5,578 485.7,580.5 485.7,584 C485.7,589 484,591.8 480,591.8 L437.5,591.8 C433.5,591.8 432,589 432,584 Z" fill="#fff"/>
<rect x="408.7" y="596.6" width="15.6" height="15.4" fill="none" stroke="#fff" stroke-width="1.8"/>
<path d="M409.8,597.4 L423.4,597.4 L416.6,609.8 Z" fill="#fff"/>
<text x="427" y="612.5" font-size="21.6" font-weight="bold" fill="#fff" stroke="#fff" stroke-width="1.1" textLength="80.8" lengthAdjust="spacingAndGlyphs">VARTA</text>
<rect x="397" y="617.6" width="124.8" height="1.3" fill="#fff"/>
<text x="410" y="631.8" font-size="14.4" font-weight="bold" font-style="italic" fill="#fff" stroke="#fff" stroke-width="0.45" textLength="98.6" lengthAdjust="spacingAndGlyphs">HIGH ENERGY</text>
<rect x="397" y="633.5" width="124.8" height="1.3" fill="#fff"/>
<path d="M408.1,644.6 L408.1,642.6 Q408.1,641 410.1,641 L421.1,641 Q423.1,641 423.1,642.6 L423.1,644.6 Z" fill="#fff"/>
<path d="M403.6,728.2 L403.6,648 Q403.6,645.4 406.1,645.4 L425.1,645.4 Q427.6,645.4 427.6,648 L427.6,728.2 Z" fill="#231f20" stroke="#fff" stroke-width="1"/>
<path d="M403.1,662.3 L403.1,648 Q403.1,645 406.1,645 L425.1,645 Q428.1,645 428.1,648 L428.1,662.3 Z" fill="#fff"/>
<path d="M415.6,651.6 L415.6,657.8 M412.5,654.7 L418.70000000000005,654.7" stroke="#231f20" stroke-width="1"/>
<text transform="translate(420.0,708.5) rotate(-90)" font-size="12.6" font-weight="bold" fill="#fff" stroke="#fff" stroke-width="0.5" textLength="42.5" lengthAdjust="spacingAndGlyphs">VARTA</text>
<text transform="translate(425.90000000000003,719) rotate(-90)" font-size="6.6" font-weight="bold" font-style="italic" fill="#fff" textLength="46" lengthAdjust="spacingAndGlyphs">HIGH ENERGY</text>
<rect x="412.1" y="711.2" width="6.5" height="7" fill="none" stroke="#fff" stroke-width="0.8"/>
<path d="M412.70000000000005,711.8 L418.0,711.8 L415.35,716.9 Z" fill="#fff"/>
<path d="M405.1,665 L408.1,671 M408.1,665 L405.1,671 M404.90000000000003,667.5 L408.40000000000003,667.5" stroke="#fff" stroke-width="0.6"/>
<rect x="413.1" y="721" width="7" height="2.2" fill="#888"/>
<path d="M437.1,644.6 L437.1,642.6 Q437.1,641 439.1,641 L450.1,641 Q452.1,641 452.1,642.6 L452.1,644.6 Z" fill="#fff"/>
<path d="M432.6,728.2 L432.6,648 Q432.6,645.4 435.1,645.4 L454.1,645.4 Q456.6,645.4 456.6,648 L456.6,728.2 Z" fill="#231f20" stroke="#fff" stroke-width="1"/>
<path d="M432.1,662.3 L432.1,648 Q432.1,645 435.1,645 L454.1,645 Q457.1,645 457.1,648 L457.1,662.3 Z" fill="#fff"/>
<path d="M444.6,651.6 L444.6,657.8 M441.5,654.7 L447.70000000000005,654.7" stroke="#231f20" stroke-width="1"/>
<text transform="translate(449.0,708.5) rotate(-90)" font-size="12.6" font-weight="bold" fill="#fff" stroke="#fff" stroke-width="0.5" textLength="42.5" lengthAdjust="spacingAndGlyphs">VARTA</text>
<text transform="translate(454.90000000000003,719) rotate(-90)" font-size="6.6" font-weight="bold" font-style="italic" fill="#fff" textLength="46" lengthAdjust="spacingAndGlyphs">HIGH ENERGY</text>
<rect x="441.1" y="711.2" width="6.5" height="7" fill="none" stroke="#fff" stroke-width="0.8"/>
<path d="M441.70000000000005,711.8 L447.0,711.8 L444.35,716.9 Z" fill="#fff"/>
<path d="M434.1,665 L437.1,671 M437.1,665 L434.1,671 M433.90000000000003,667.5 L437.40000000000003,667.5" stroke="#fff" stroke-width="0.6"/>
<rect x="442.1" y="721" width="7" height="2.2" fill="#888"/>
<path d="M466.1,644.6 L466.1,642.6 Q466.1,641 468.1,641 L479.1,641 Q481.1,641 481.1,642.6 L481.1,644.6 Z" fill="#fff"/>
<path d="M461.6,728.2 L461.6,648 Q461.6,645.4 464.1,645.4 L483.1,645.4 Q485.6,645.4 485.6,648 L485.6,728.2 Z" fill="#231f20" stroke="#fff" stroke-width="1"/>
<path d="M461.1,662.3 L461.1,648 Q461.1,645 464.1,645 L483.1,645 Q486.1,645 486.1,648 L486.1,662.3 Z" fill="#fff"/>
<path d="M473.6,651.6 L473.6,657.8 M470.5,654.7 L476.70000000000005,654.7" stroke="#231f20" stroke-width="1"/>
<text transform="translate(478.0,708.5) rotate(-90)" font-size="12.6" font-weight="bold" fill="#fff" stroke="#fff" stroke-width="0.5" textLength="42.5" lengthAdjust="spacingAndGlyphs">VARTA</text>
<text transform="translate(483.90000000000003,719) rotate(-90)" font-size="6.6" font-weight="bold" font-style="italic" fill="#fff" textLength="46" lengthAdjust="spacingAndGlyphs">HIGH ENERGY</text>
<rect x="470.1" y="711.2" width="6.5" height="7" fill="none" stroke="#fff" stroke-width="0.8"/>
<path d="M470.70000000000005,711.8 L476.0,711.8 L473.35,716.9 Z" fill="#fff"/>
<path d="M463.1,665 L466.1,671 M466.1,665 L463.1,671 M462.90000000000003,667.5 L466.40000000000003,667.5" stroke="#fff" stroke-width="0.6"/>
<rect x="471.1" y="721" width="7" height="2.2" fill="#888"/>
<path d="M495.1,644.6 L495.1,642.6 Q495.1,641 497.1,641 L508.1,641 Q510.1,641 510.1,642.6 L510.1,644.6 Z" fill="#fff"/>
<path d="M490.6,728.2 L490.6,648 Q490.6,645.4 493.1,645.4 L512.1,645.4 Q514.6,645.4 514.6,648 L514.6,728.2 Z" fill="#231f20" stroke="#fff" stroke-width="1"/>
<path d="M490.1,662.3 L490.1,648 Q490.1,645 493.1,645 L512.1,645 Q515.1,645 515.1,648 L515.1,662.3 Z" fill="#fff"/>
<path d="M502.6,651.6 L502.6,657.8 M499.5,654.7 L505.70000000000005,654.7" stroke="#231f20" stroke-width="1"/>
<text transform="translate(507.0,708.5) rotate(-90)" font-size="12.6" font-weight="bold" fill="#fff" stroke="#fff" stroke-width="0.5" textLength="42.5" lengthAdjust="spacingAndGlyphs">VARTA</text>
<text transform="translate(512.9,719) rotate(-90)" font-size="6.6" font-weight="bold" font-style="italic" fill="#fff" textLength="46" lengthAdjust="spacingAndGlyphs">HIGH ENERGY</text>
<rect x="499.1" y="711.2" width="6.5" height="7" fill="none" stroke="#fff" stroke-width="0.8"/>
<path d="M499.70000000000005,711.8 L505.0,711.8 L502.35,716.9 Z" fill="#fff"/>
<path d="M492.1,665 L495.1,671 M495.1,665 L492.1,671 M491.90000000000003,667.5 L495.40000000000003,667.5" stroke="#fff" stroke-width="0.6"/>
<rect x="500.1" y="721" width="7" height="2.2" fill="#888"/>
<text x="401.8" y="743.2" font-size="11.2" fill="#fff" stroke="#fff" stroke-width="0.25" textLength="34.3" lengthAdjust="spacingAndGlyphs">+80%</text>
<text x="440.2" y="743.2" font-size="11" font-weight="bold" fill="#fff" stroke="#fff" stroke-width="0.3" textLength="77" lengthAdjust="spacingAndGlyphs">MORE POWER</text>
<path d="M684.6,595 C695,588 715,578 733.3,573.3 C745,570.5 752,570.5 760,570.8 C772,571.5 785,573.3 795,576 C803,578.5 810,582 810,586.5 C810,591 800,594.3 785,595 C775,595.5 765,594.5 760,593.3 C750,591.5 740,588 736,583 C732,578.5 733,571 740,566 C747,561.5 760,558.5 776.7,558.3 C790,558.3 805,561 818,567 C830,573 840,580 841.5,589 C842.5,594 840.5,597 838.3,601" fill="none" stroke="#231f20" stroke-width="3.3"/>
<line x1="667" y1="609.6" x2="682.3" y2="598.6" stroke="#231f20" stroke-width="6.6"/>
<path d="M693.3,605.4 L760,602.2 L857,599.2 C866,599.5 872,603.5 875.5,611 C878.5,620 878.7,635 877.9,650.6 C876.8,665 873,679 866,691 C860,700 850,707 835,712.5 C825,716 815,718.5 805,720 C790,722.5 775,724.2 760,725.2 L700,726.7 L655.3,726.5 C658,714 661,701 664,690 C667,679 670,667 672.5,660 C675,652 678,644 680.8,636.7 C683,630 685.5,624 687.5,620 C689.5,615 691.5,610 693.3,605.4 Z" fill="#231f20"/>
<defs><clipPath id="tlm"><path d="M698.5,642 L760,638 C790,636.2 815,633.5 835,629 C848,626 857,621 864,614.5 C868.5,618 869.5,626 869.5,634 C870,645 870,660 868.5,672 C867,682 862,690 852,694.5 L835,698 L805,702.8 L760,707.3 L700,708.8 L675.4,709.2 L696.3,642 Z"/></clipPath></defs>
<path d="M698.5,642 L760,638 C790,636.2 815,633.5 835,629 C848,626 857,621 864,614.5 C868.5,618 869.5,626 869.5,634 C870,645 870,660 868.5,672 C867,682 862,690 852,694.5 L835,698 L805,702.8 L760,707.3 L700,708.8 L675.4,709.2 L696.3,642 Z" fill="#fff"/>
<g clip-path="url(#tlm)">
<rect x="705.6" y="625" width="3.0" height="90" fill="#231f20"/>
<rect x="714.6" y="625" width="3.0" height="90" fill="#231f20"/>
<rect x="723.6" y="625" width="3.0" height="90" fill="#231f20"/>
<rect x="732.6" y="625" width="3.0" height="90" fill="#231f20"/>
<rect x="741.6" y="625" width="3.0" height="90" fill="#231f20"/>
<rect x="750.6" y="625" width="3.0" height="90" fill="#231f20"/>
<rect x="759.6" y="625" width="3.0" height="90" fill="#231f20"/>
<rect x="768.6" y="625" width="3.0" height="90" fill="#231f20"/>
<rect x="777.6" y="625" width="3.0" height="90" fill="#231f20"/>
<rect x="786.6" y="625" width="3.0" height="90" fill="#231f20"/>
<rect x="795.6" y="625" width="3.0" height="90" fill="#231f20"/>
<rect x="804.6" y="625" width="3.0" height="90" fill="#231f20"/>
<rect x="813.6" y="625" width="3.0" height="90" fill="#231f20"/>
<rect x="822.6" y="625" width="3.0" height="90" fill="#231f20"/>
<rect x="831.6" y="625" width="3.0" height="90" fill="#231f20"/>
<rect x="840.6" y="625" width="3.0" height="90" fill="#231f20"/>
<rect x="849.6" y="625" width="3.0" height="90" fill="#231f20"/>
<rect x="858.6" y="625" width="3.0" height="90" fill="#231f20"/>
<rect x="867.6" y="625" width="3.0" height="90" fill="#231f20"/>
<line x1="698.6" y1="650.5" x2="684.6" y2="703" stroke="#231f20" stroke-width="4.8" stroke-linecap="round"/>
</g>
<defs><clipPath id="tlg"><path d="M690,606 L872,598 L872,604 C865,609 858,613.5 849,616.8 C830,623.5 805,627.5 760,631.8 L697,635.6 Z"/></clipPath></defs>
<g clip-path="url(#tlg)">
<rect x="712.0" y="610.0" width="5.5" height="7.0" fill="#fff"/>
<rect x="720.6" y="609.6" width="5.5" height="7.0" fill="#fff"/>
<rect x="729.2" y="609.2" width="5.5" height="7.0" fill="#fff"/>
<rect x="737.8" y="608.8" width="5.5" height="7.0" fill="#fff"/>
<rect x="746.4" y="608.5" width="5.5" height="7.0" fill="#fff"/>
<rect x="755.0" y="608.1" width="5.5" height="7.0" fill="#fff"/>
<rect x="763.6" y="607.7" width="5.5" height="7.0" fill="#fff"/>
<rect x="772.2" y="607.3" width="5.5" height="7.0" fill="#fff"/>
<rect x="780.8" y="606.9" width="5.5" height="7.0" fill="#fff"/>
<rect x="789.4" y="606.5" width="5.5" height="7.0" fill="#fff"/>
<rect x="798.0" y="606.1" width="5.5" height="7.0" fill="#fff"/>
<rect x="806.6" y="605.7" width="5.5" height="7.0" fill="#fff"/>
<rect x="815.2" y="605.4" width="5.5" height="7.0" fill="#fff"/>
<rect x="823.8" y="605.0" width="5.5" height="7.0" fill="#fff"/>
<rect x="832.4" y="604.6" width="5.5" height="7.0" fill="#fff"/>
<rect x="841.0" y="604.2" width="5.5" height="7.0" fill="#fff"/>
<rect x="849.6" y="603.8" width="5.5" height="7.0" fill="#fff"/>
<rect x="712.0" y="620.0" width="5.5" height="4.2" fill="#fff"/>
<rect x="720.6" y="619.6" width="5.5" height="4.2" fill="#fff"/>
<rect x="729.2" y="619.2" width="5.5" height="4.2" fill="#fff"/>
<rect x="737.8" y="618.8" width="5.5" height="4.2" fill="#fff"/>
<rect x="746.4" y="618.5" width="5.5" height="4.2" fill="#fff"/>
<rect x="755.0" y="618.1" width="5.5" height="4.2" fill="#fff"/>
<rect x="763.6" y="617.7" width="5.5" height="4.2" fill="#fff"/>
<rect x="772.2" y="617.3" width="5.5" height="4.2" fill="#fff"/>
<rect x="780.8" y="616.9" width="5.5" height="4.2" fill="#fff"/>
<rect x="789.4" y="616.5" width="5.5" height="4.2" fill="#fff"/>
<rect x="798.0" y="616.1" width="5.5" height="4.2" fill="#fff"/>
<rect x="806.6" y="615.7" width="5.5" height="4.2" fill="#fff"/>
<rect x="815.2" y="615.4" width="5.5" height="4.2" fill="#fff"/>
<rect x="823.8" y="615.0" width="5.5" height="4.2" fill="#fff"/>
<rect x="832.4" y="614.6" width="5.5" height="4.2" fill="#fff"/>
<rect x="841.0" y="614.2" width="5.5" height="4.2" fill="#fff"/>
<rect x="849.6" y="613.8" width="5.5" height="4.2" fill="#fff"/>
<rect x="712.0" y="627.9" width="5.5" height="6.3" fill="#fff"/>
<rect x="720.6" y="627.5" width="5.5" height="6.3" fill="#fff"/>
<rect x="729.2" y="627.1" width="5.5" height="6.3" fill="#fff"/>
<rect x="737.8" y="626.7" width="5.5" height="6.3" fill="#fff"/>
<rect x="746.4" y="626.4" width="5.5" height="6.3" fill="#fff"/>
<rect x="755.0" y="626.0" width="5.5" height="6.3" fill="#fff"/>
<rect x="763.6" y="625.6" width="5.5" height="6.3" fill="#fff"/>
<rect x="772.2" y="625.2" width="5.5" height="6.3" fill="#fff"/>
<rect x="780.8" y="624.8" width="5.5" height="6.3" fill="#fff"/>
<rect x="789.4" y="624.4" width="5.5" height="6.3" fill="#fff"/>
<rect x="798.0" y="624.0" width="5.5" height="6.3" fill="#fff"/>
<rect x="806.6" y="623.6" width="5.5" height="6.3" fill="#fff"/>
<rect x="815.2" y="623.3" width="5.5" height="6.3" fill="#fff"/>
<rect x="823.8" y="622.9" width="5.5" height="6.3" fill="#fff"/>
<rect x="832.4" y="622.5" width="5.5" height="6.3" fill="#fff"/>
<rect x="841.0" y="622.1" width="5.5" height="6.3" fill="#fff"/>
<rect x="849.6" y="621.7" width="5.5" height="6.3" fill="#fff"/>
</g>
<line x1="699.8000000000001" y1="610" x2="698.6" y2="635.5" stroke="#fff" stroke-width="1.4"/>
<line x1="704.4" y1="610" x2="703.1999999999999" y2="635.5" stroke="#fff" stroke-width="1.4"/>
<line x1="708.6" y1="610" x2="707.4" y2="635.5" stroke="#fff" stroke-width="1.4"/>
<path d="M694.5,617 L695.8,617 L694.8,635.5 L692.8,635.5 Z" fill="#fff"/>
<path d="M689,635.5 L692.3,627 L692.3,635.5 Z" fill="#fff"/>
<path d="M849.7,627.5 C853,628.5 856,629 858.5,629.5" fill="none" stroke="#231f20" stroke-width="2.5"/>
<path d="M718.4,651.8 L766.9,647.9 L845.5,640 L845.5,681.4 L762.5,691.9 L708.4,694.7 Z" fill="#231f20"/>
<circle cx="739" cy="674.6" r="18.3" fill="#fff" stroke="#231f20" stroke-width="2.8"/>
<line x1="724.5" y1="667" x2="724.5" y2="682.5" stroke="#231f20" stroke-width="2.1" stroke-linecap="round"/>
<line x1="728.4" y1="671.2" x2="728.4" y2="681.5" stroke="#231f20" stroke-width="2.1" stroke-linecap="round"/>
<line x1="732.3" y1="659.2" x2="732.3" y2="689" stroke="#231f20" stroke-width="2.1" stroke-linecap="round"/>
<line x1="736.8" y1="672.3" x2="736.8" y2="682.5" stroke="#231f20" stroke-width="2.1" stroke-linecap="round"/>
<line x1="742.4" y1="659.2" x2="742.4" y2="690" stroke="#231f20" stroke-width="2.1" stroke-linecap="round"/>
<line x1="746.8" y1="671.2" x2="746.8" y2="681.5" stroke="#231f20" stroke-width="2.1" stroke-linecap="round"/>
<line x1="751.9" y1="665.2" x2="751.9" y2="683.5" stroke="#231f20" stroke-width="2.1" stroke-linecap="round"/>
<ellipse cx="797.2" cy="665.4" rx="30.7" ry="33" fill="#fff" stroke="#231f20" stroke-width="3.5"/>
<line x1="770.6" y1="657.2" x2="770.6" y2="672.5" stroke="#231f20" stroke-width="2.3" stroke-linecap="round"/>
<line x1="778.3" y1="644.2" x2="778.3" y2="684.3" stroke="#231f20" stroke-width="2.3" stroke-linecap="round"/>
<line x1="783" y1="666" x2="783" y2="675.4" stroke="#231f20" stroke-width="2.3" stroke-linecap="round"/>
<line x1="787.7" y1="639.5" x2="787.7" y2="691.4" stroke="#231f20" stroke-width="2.3" stroke-linecap="round"/>
<line x1="792.4" y1="666" x2="792.4" y2="675.4" stroke="#231f20" stroke-width="2.3" stroke-linecap="round"/>
<line x1="797.5" y1="636" x2="797.5" y2="693" stroke="#231f20" stroke-width="2.3" stroke-linecap="round"/>
<line x1="802.5" y1="665.4" x2="802.5" y2="675.4" stroke="#231f20" stroke-width="2.3" stroke-linecap="round"/>
<line x1="807.2" y1="639.5" x2="807.2" y2="691.4" stroke="#231f20" stroke-width="2.3" stroke-linecap="round"/>
<line x1="811.9" y1="665.4" x2="811.9" y2="674.8" stroke="#231f20" stroke-width="2.3" stroke-linecap="round"/>
<line x1="817.2" y1="644.2" x2="817.2" y2="684.3" stroke="#231f20" stroke-width="2.3" stroke-linecap="round"/>
<line x1="820.8" y1="662.6" x2="820.8" y2="673.1" stroke="#231f20" stroke-width="2.3" stroke-linecap="round"/>
<line x1="824.9" y1="657.2" x2="824.9" y2="672.5" stroke="#231f20" stroke-width="2.3" stroke-linecap="round"/>
<rect x="664.0" y="716.6" width="3" height="5.4" fill="#fff" transform="rotate(-0.9 665.5 719.4)"/>
<rect x="670.5" y="716.4" width="3" height="5.4" fill="#fff" transform="rotate(-0.9 672.0 719.2)"/>
<rect x="676.9" y="716.2" width="3" height="5.4" fill="#fff" transform="rotate(-0.9 678.4 719.0)"/>
<rect x="683.4" y="716.1" width="3" height="5.4" fill="#fff" transform="rotate(-0.9 684.9 718.9)"/>
<rect x="689.8" y="715.9" width="3" height="5.4" fill="#fff" transform="rotate(-0.9 691.3 718.7)"/>
<rect x="696.3" y="715.8" width="3" height="5.4" fill="#fff" transform="rotate(-0.9 697.8 718.6)"/>
<rect x="702.7" y="715.6" width="3" height="5.4" fill="#fff" transform="rotate(-1.0 704.2 718.4)"/>
<rect x="709.2" y="715.4" width="3" height="5.4" fill="#fff" transform="rotate(-1.0 710.7 718.2)"/>
<rect x="715.6" y="715.2" width="3" height="5.4" fill="#fff" transform="rotate(-1.0 717.1 718.0)"/>
<rect x="722.1" y="715.0" width="3" height="5.4" fill="#fff" transform="rotate(-1.0 723.6 717.8)"/>
<rect x="728.5" y="714.8" width="3" height="5.4" fill="#fff" transform="rotate(-0.9 730.0 717.6)"/>
<rect x="735.0" y="714.6" width="3" height="5.4" fill="#fff" transform="rotate(-0.9 736.5 717.4)"/>
<rect x="741.4" y="714.5" width="3" height="5.4" fill="#fff" transform="rotate(-0.9 742.9 717.3)"/>
<rect x="747.9" y="714.3" width="3" height="5.4" fill="#fff" transform="rotate(-0.9 749.4 717.1)"/>
<rect x="754.3" y="714.1" width="3" height="5.4" fill="#fff" transform="rotate(-0.9 755.8 716.9)"/>
<rect x="760.8" y="713.8" width="3" height="5.4" fill="#fff" transform="rotate(-3.7 762.3 716.6)"/>
<rect x="767.2" y="713.1" width="3" height="5.4" fill="#fff" transform="rotate(-3.7 768.7 715.9)"/>
<rect x="773.7" y="712.4" width="3" height="5.4" fill="#fff" transform="rotate(-3.7 775.2 715.2)"/>
<rect x="780.1" y="711.7" width="3" height="5.4" fill="#fff" transform="rotate(-3.7 781.6 714.5)"/>
<rect x="786.6" y="711.0" width="3" height="5.4" fill="#fff" transform="rotate(-3.7 788.1 713.8)"/>
<rect x="793.0" y="709.6" width="3" height="5.4" fill="#fff" transform="rotate(-9.2 794.5 712.4)"/>
<rect x="799.5" y="707.8" width="3" height="5.4" fill="#fff" transform="rotate(-9.2 801.0 710.6)"/>
<rect x="805.9" y="706.1" width="3" height="5.4" fill="#fff" transform="rotate(-9.0 807.4 708.9)"/>
<rect x="812.4" y="704.3" width="3" height="5.4" fill="#fff" transform="rotate(-9.0 813.9 707.1)"/>
<rect x="818.8" y="702.6" width="3" height="5.4" fill="#fff" transform="rotate(-10.0 820.3 705.4)"/>
<rect x="825.3" y="700.7" width="3" height="5.4" fill="#fff" transform="rotate(-10.0 826.8 703.5)"/>
<rect x="831.7" y="698.7" width="3" height="5.4" fill="#fff" transform="rotate(-10.0 833.2 701.5)"/>
<rect x="838.2" y="696.5" width="3" height="5.4" fill="#fff" transform="rotate(-12.1 839.7 699.3)"/>
<rect x="844.6" y="694.1" width="3" height="5.4" fill="#fff" transform="rotate(-12.1 846.1 696.9)"/>
<rect x="851.1" y="691.1" width="3" height="5.4" fill="#fff" transform="rotate(-19.2 852.6 693.9)"/>
<rect x="857.5" y="687.1" width="3" height="5.4" fill="#fff" transform="rotate(-19.2 859.0 689.9)"/>
</svg></body></html>
